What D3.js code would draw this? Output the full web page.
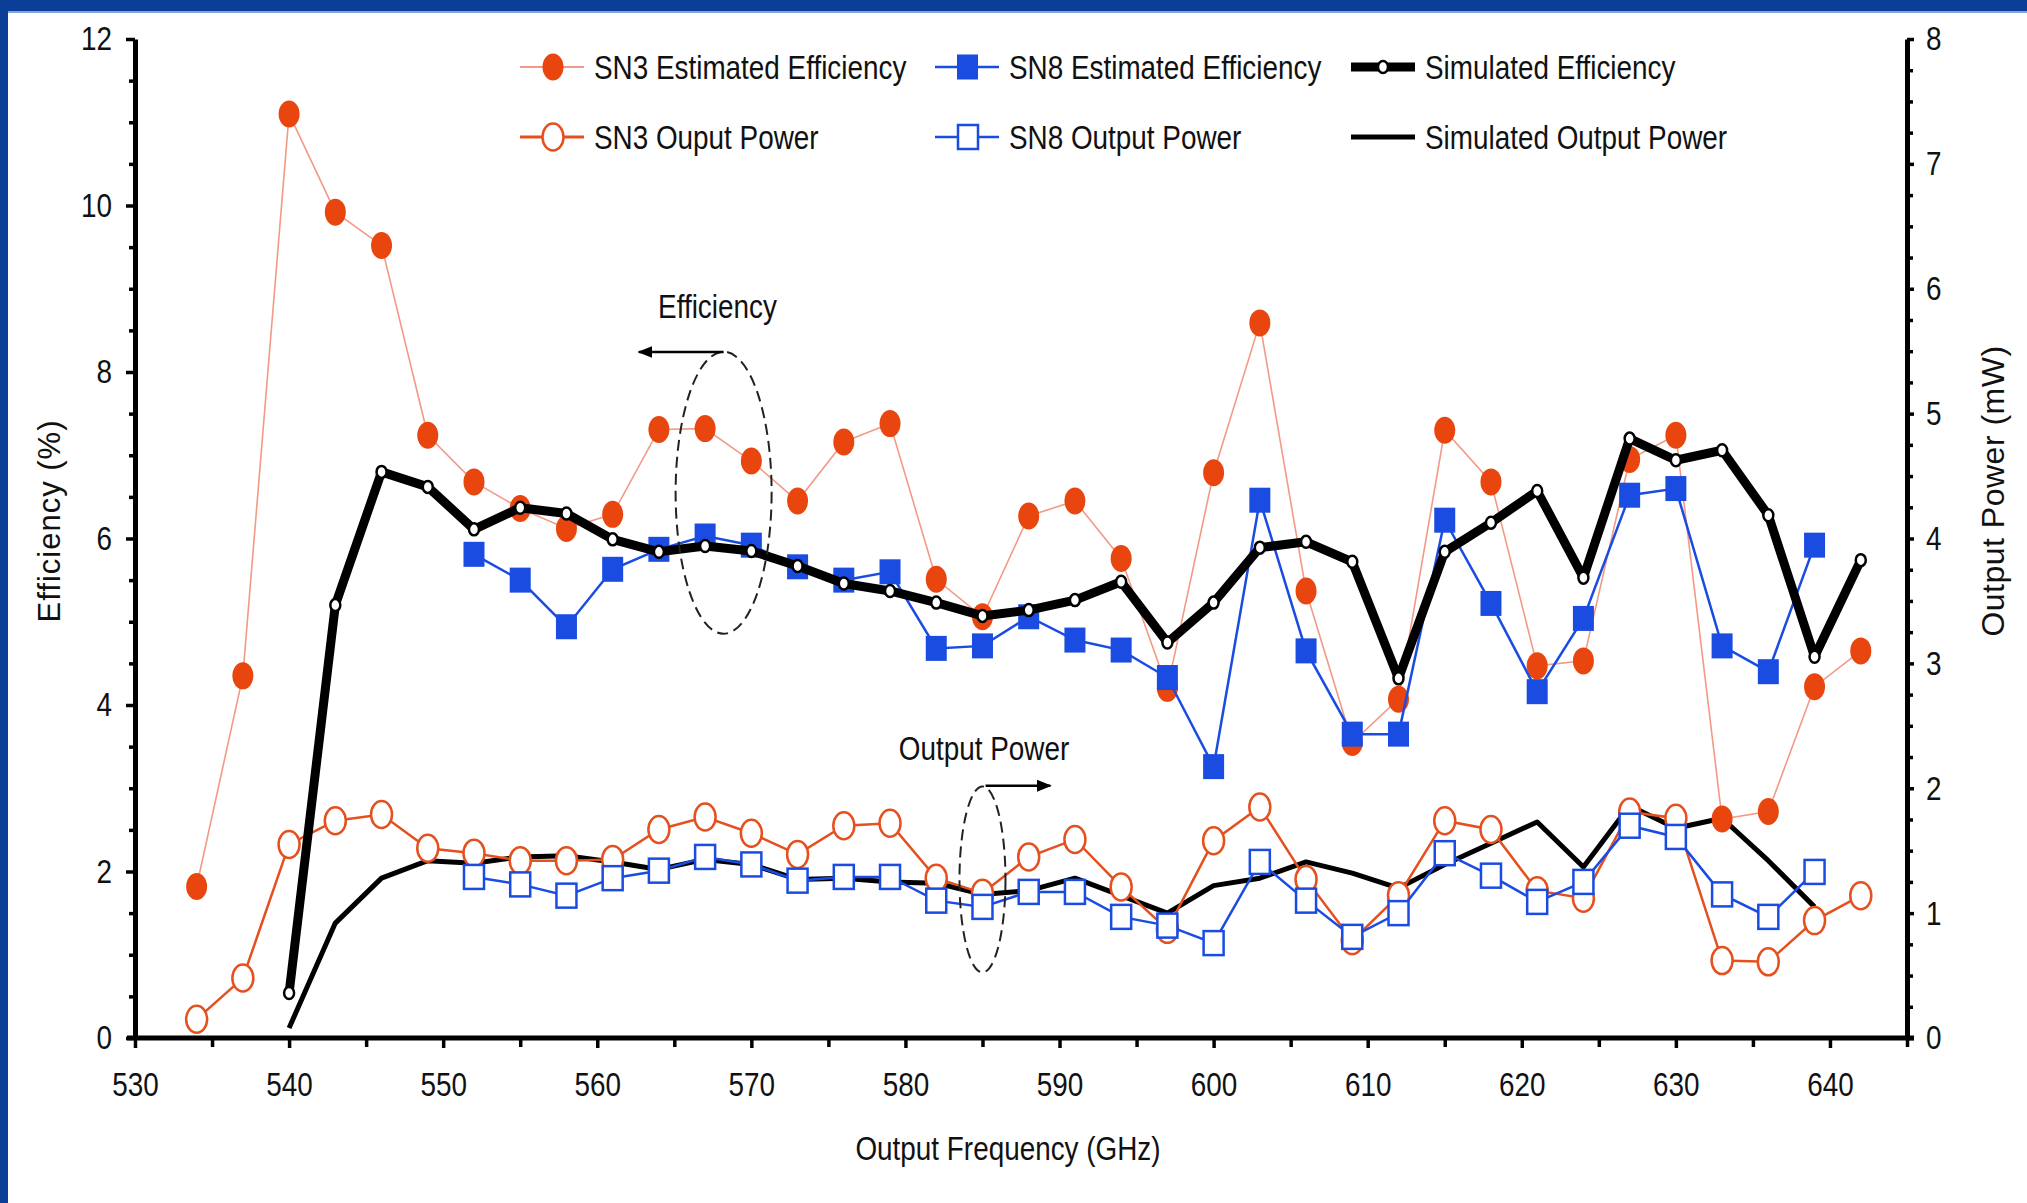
<!DOCTYPE html>
<html>
<head>
<meta charset="utf-8">
<script src="https://d3js.org/d3.v7.min.js"></script>
<style>
body { margin: 0; background: #fff; }
svg text { font-family: "Liberation Sans", Arial, sans-serif; fill: #111; }
</style>
</head>
<body>
<div id="container"></div>
<script>
var width = 2027, height = 1203;

// frequencies (GHz)
var freqSN3 = [534,537,540,543,546,549,552,555,558,561,564,567,570,573,576,579,582,585,588,591,594,597,600,603,606,609,612,615,618,621,624,627,630,633,636,639,642];
var freqSN8 = [552,555,558,561,564,567,570,573,576,579,582,585,588,591,594,597,600,603,606,609,612,615,618,621,624,627,630,633,636,639];
var freqSimEff = [540,543,546,549,552,555,558,561,564,567,570,573,576,579,582,585,588,591,594,597,600,603,606,609,612,615,618,621,624,627,630,633,636,639,642];
var freqSimPow = [540,543,546,549,552,555,558,561,564,567,570,573,576,579,582,585,588,591,594,597,600,603,606,609,612,615,618,621,624,627,630,633,636,639];

// efficiency (%)
var sn3Eff = [1.82,4.35,11.1,9.92,9.52,7.24,6.68,6.36,6.12,6.29,7.31,7.32,6.93,6.45,7.16,7.38,5.51,5.06,6.27,6.45,5.76,4.2,6.79,8.59,5.37,3.55,4.07,7.3,6.68,4.47,4.53,6.95,7.24,2.63,2.72,4.22,4.65];
var sn8Eff = [5.81,5.5,4.94,5.63,5.87,6.03,5.92,5.66,5.5,5.6,4.68,4.71,5.06,4.78,4.66,4.33,3.26,6.46,4.65,3.65,3.65,6.22,5.22,4.16,5.04,6.52,6.6,4.71,4.4,5.92];
var simEff = [0.54,5.2,6.8,6.62,6.11,6.37,6.3,5.99,5.84,5.91,5.85,5.67,5.46,5.37,5.23,5.07,5.14,5.26,5.48,4.75,5.23,5.89,5.96,5.72,4.32,5.84,6.19,6.57,5.53,7.2,6.94,7.06,6.28,4.58,5.74];

// output power (mW)
var sn3Pow = [0.15,0.48,1.55,1.74,1.79,1.52,1.48,1.42,1.42,1.43,1.67,1.77,1.64,1.47,1.7,1.72,1.28,1.16,1.45,1.59,1.21,0.87,1.58,1.85,1.27,0.78,1.14,1.74,1.67,1.18,1.12,1.81,1.76,0.62,0.61,0.94,1.14];
var sn8Pow = [1.29,1.23,1.14,1.28,1.34,1.45,1.39,1.26,1.29,1.29,1.1,1.05,1.17,1.17,0.97,0.9,0.76,1.41,1.1,0.81,1.0,1.48,1.3,1.09,1.25,1.7,1.61,1.15,0.97,1.33];
var simPow = [0.08,0.92,1.28,1.42,1.4,1.45,1.46,1.41,1.35,1.43,1.39,1.27,1.28,1.25,1.24,1.15,1.18,1.28,1.14,1.0,1.22,1.28,1.41,1.32,1.2,1.39,1.56,1.73,1.37,1.86,1.68,1.76,1.42,1.05];

// axis ticks
var xMajor = [530,540,550,560,570,580,590,600,610,620,630,640];
var xMinor = [535,545,555,565,575,585,595,605,615,625,635,645];
var yLeftMajor = [0,2,4,6,8,10,12];
var yLeftMinor = [0.5,1,1.5,2.5,3,3.5,4.5,5,5.5,6.5,7,7.5,8.5,9,9.5,10.5,11,11.5];
var yRightMajor = [0,1,2,3,4,5,6,7,8];
var yRightMinor = [0.25,0.5,0.75,1.25,1.5,1.75,2.25,2.5,2.75,3.25,3.5,3.75,4.25,4.5,4.75,5.25,5.5,5.75,6.25,6.5,6.75,7.25,7.5,7.75];

var red = '#e8450f', redLine = '#e4501e', redThin = '#f29a86', blue = '#1a4ce2';

var svg = d3.select('#container')
  .append('svg')
  .attr('width', width)
  .attr('height', height)
  .style('display', 'block');

// narrow look of the original lettering
function condense(sel, k) {
  sel.each(function() {
    var t = d3.select(this);
    var tx = +t.attr('x') || 0, ty = +t.attr('y') || 0;
    t.attr('transform', 'translate(' + tx + ',' + ty + ') scale(' + k + ',1) translate(' + (-tx) + ',' + (-ty) + ')');
  });
}

svg.append('rect').attr('width', width).attr('height', height).attr('fill', '#fff');
// blue slide frame
svg.append('rect').attr('x', 0).attr('y', 0).attr('width', width).attr('height', 11).attr('fill', '#0b3e97');
svg.append('rect').attr('x', 0).attr('y', 11).attr('width', width).attr('height', 2).attr('fill', '#7fa6dc');
svg.append('rect').attr('x', 0).attr('y', 0).attr('width', 8).attr('height', height).attr('fill', '#0b3e97');

var x = d3.scaleLinear().domain([530, 645]).range([135, 1907]);
var yL = d3.scaleLinear().domain([0, 12]).range([1038, 39]);
var yR = d3.scaleLinear().domain([0, 8]).range([1038, 39]);

function zip(xs, ys) { return xs.map(function(f, i) { return [f, ys[i]]; }); }

// ---- axes ----
function styleAxis(g, size) {
  g.select('.domain').attr('stroke', '#000').attr('stroke-width', 5);
  g.selectAll('.tick line').attr('stroke', '#000').attr('stroke-width', 3.5);
  g.selectAll('.tick text').attr('font-size', size).attr('fill', '#111').call(condense, 0.82);
}

var gx = svg.append('g').attr('transform', 'translate(0,1038)')
  .call(d3.axisBottom(x).tickValues(xMajor).tickSize(10).tickSizeOuter(0).tickPadding(24).tickFormat(d3.format('d')));
styleAxis(gx, 34);
gx.select('.domain').attr('d', 'M127,0H1914');
var gxm = svg.append('g').attr('transform', 'translate(0,1038)')
  .call(d3.axisBottom(x).tickValues(xMinor).tickSize(9).tickFormat(''));
gxm.select('.domain').remove();
gxm.selectAll('.tick line').attr('stroke', '#000').attr('stroke-width', 3.5);

var gl = svg.append('g').attr('transform', 'translate(135,0)')
  .call(d3.axisLeft(yL).tickValues(yLeftMajor).tickSize(9).tickSizeOuter(0).tickPadding(14).tickFormat(d3.format('d')));
styleAxis(gl, 34);
var glm = svg.append('g').attr('transform', 'translate(135,0)')
  .call(d3.axisLeft(yL).tickValues(yLeftMinor).tickSize(6).tickFormat(''));
glm.select('.domain').remove();
glm.selectAll('.tick line').attr('stroke', '#000').attr('stroke-width', 3.5);

var gr = svg.append('g').attr('transform', 'translate(1907,0)')
  .call(d3.axisRight(yR).tickValues(yRightMajor).tickSize(7).tickSizeOuter(0).tickPadding(12).tickFormat(d3.format('d')));
styleAxis(gr, 34);
var grm = svg.append('g').attr('transform', 'translate(1907,0)')
  .call(d3.axisRight(yR).tickValues(yRightMinor).tickSize(6).tickFormat(''));
grm.select('.domain').remove();
grm.selectAll('.tick line').attr('stroke', '#000').attr('stroke-width', 3.5);

// axis titles
svg.append('text').attr('transform', 'translate(60,521) rotate(-90)')
  .attr('text-anchor', 'middle').attr('font-size', 31).attr('letter-spacing', 1).text('Efficiency (%)');
svg.append('text').attr('transform', 'translate(2004,491) rotate(-90)')
  .attr('text-anchor', 'middle').attr('font-size', 32).attr('letter-spacing', 0.5).text('Output Power (mW)');
svg.append('text').attr('x', 1008).attr('y', 1160).attr('text-anchor', 'middle')
  .attr('font-size', 34).text('Output Frequency (GHz)').call(condense, 0.82);

// ---- series ----
var lineL = d3.line().x(function(d) { return x(d[0]); }).y(function(d) { return yL(d[1]); });
var lineR = d3.line().x(function(d) { return x(d[0]); }).y(function(d) { return yR(d[1]); });

var plot = svg.append('g');

// simulated output power
plot.append('path').datum(zip(freqSimPow, simPow)).attr('d', lineR)
  .attr('fill', 'none').attr('stroke', '#000').attr('stroke-width', 5).attr('stroke-linejoin', 'round');

// SN3 output power
var sn3P = zip(freqSN3, sn3Pow);
plot.append('path').datum(sn3P).attr('d', lineR)
  .attr('fill', 'none').attr('stroke', redLine).attr('stroke-width', 2.5);
plot.selectAll('.sn3p').data(sn3P).enter().append('ellipse')
  .attr('cx', function(d) { return x(d[0]); }).attr('cy', function(d) { return yR(d[1]); })
  .attr('rx', 10.5).attr('ry', 13.5).attr('fill', '#fff').attr('stroke', redLine).attr('stroke-width', 2.5);

// SN8 output power
var sn8P = zip(freqSN8, sn8Pow);
plot.append('path').datum(sn8P).attr('d', lineR)
  .attr('fill', 'none').attr('stroke', blue).attr('stroke-width', 2.5);
plot.selectAll('.sn8p').data(sn8P).enter().append('rect')
  .attr('x', function(d) { return x(d[0]) - 10; }).attr('y', function(d) { return yR(d[1]) - 12; })
  .attr('width', 20).attr('height', 24).attr('fill', '#fff').attr('stroke', blue).attr('stroke-width', 2.5);

// SN3 estimated efficiency
var sn3E = zip(freqSN3, sn3Eff);
plot.append('path').datum(sn3E).attr('d', lineL)
  .attr('fill', 'none').attr('stroke', redThin).attr('stroke-width', 1.6);
plot.selectAll('.sn3e').data(sn3E).enter().append('ellipse')
  .attr('cx', function(d) { return x(d[0]); }).attr('cy', function(d) { return yL(d[1]); })
  .attr('rx', 10.5).attr('ry', 13.5).attr('fill', red);

// SN8 estimated efficiency
var sn8E = zip(freqSN8, sn8Eff);
plot.append('path').datum(sn8E).attr('d', lineL)
  .attr('fill', 'none').attr('stroke', blue).attr('stroke-width', 2.5);
plot.selectAll('.sn8e').data(sn8E).enter().append('rect')
  .attr('x', function(d) { return x(d[0]) - 10.5; }).attr('y', function(d) { return yL(d[1]) - 12.5; })
  .attr('width', 21).attr('height', 25).attr('fill', blue);

// simulated efficiency
var simE = zip(freqSimEff, simEff);
plot.append('path').datum(simE).attr('d', lineL)
  .attr('fill', 'none').attr('stroke', '#000').attr('stroke-width', 9).attr('stroke-linejoin', 'round');
plot.selectAll('.sime').data(simE).enter().append('ellipse')
  .attr('cx', function(d) { return x(d[0]); }).attr('cy', function(d) { return yL(d[1]); })
  .attr('rx', 5).attr('ry', 6).attr('fill', '#fff').attr('stroke', '#000').attr('stroke-width', 2.5);

// ---- annotations ----
var defs = svg.append('defs');
defs.append('marker').attr('id', 'arrow').attr('viewBox', '0 0 10 10')
  .attr('refX', 9).attr('refY', 5).attr('markerWidth', 6).attr('markerHeight', 6)
  .attr('markerUnits', 'strokeWidth').attr('orient', 'auto')
  .append('path').attr('d', 'M0,1L10,5L0,9z').attr('fill', '#000');

var ann = svg.append('g');
ann.append('ellipse').attr('cx', x(568.2)).attr('cy', yL(6.55)).attr('rx', 48).attr('ry', 141)
  .attr('fill', 'none').attr('stroke', '#222').attr('stroke-width', 2).attr('stroke-dasharray', '11,6');
ann.append('line').attr('x1', x(568.2)).attr('y1', yL(8.24)).attr('x2', x(562.7)).attr('y2', yL(8.24))
  .attr('stroke', '#000').attr('stroke-width', 2.5).attr('marker-end', 'url(#arrow)');
ann.append('text').attr('x', x(567.8)).attr('y', yL(8.65)).attr('text-anchor', 'middle')
  .attr('font-size', 34).text('Efficiency').call(condense, 0.82);

ann.append('ellipse').attr('cx', x(585)).attr('cy', yR(1.27)).attr('rx', 23).attr('ry', 93)
  .attr('fill', 'none').attr('stroke', '#222').attr('stroke-width', 2).attr('stroke-dasharray', '11,6');
ann.append('line').attr('x1', x(585.2)).attr('y1', yR(2.02)).attr('x2', x(589.4)).attr('y2', yR(2.02))
  .attr('stroke', '#000').attr('stroke-width', 2.5).attr('marker-end', 'url(#arrow)');
ann.append('text').attr('x', x(585.1)).attr('y', yR(2.23)).attr('text-anchor', 'middle')
  .attr('font-size', 34).text('Output Power').call(condense, 0.82);

// ---- legend ----
var legendItems = [
  {name: 'SN3 Estimated Efficiency', col: 0, row: 0, type: 'sn3e'},
  {name: 'SN8 Estimated Efficiency', col: 1, row: 0, type: 'sn8e'},
  {name: 'Simulated Efficiency', col: 2, row: 0, type: 'sime'},
  {name: 'SN3 Ouput Power', col: 0, row: 1, type: 'sn3p'},
  {name: 'SN8 Output Power', col: 1, row: 1, type: 'sn8p'},
  {name: 'Simulated Output Power', col: 2, row: 1, type: 'simp'}
];
var colX = [520, 935, 1351];
var rowY = [67, 137];

var leg = svg.append('g').selectAll('g').data(legendItems).enter().append('g')
  .attr('transform', function(d) { return 'translate(' + colX[d.col] + ',' + rowY[d.row] + ')'; });

leg.each(function(d) {
  var g = d3.select(this);
  var lineStyle = {
    sn3e: [redThin, 2], sn8e: [blue, 2.5], sime: ['#000', 9],
    sn3p: [redLine, 3], sn8p: [blue, 2.5], simp: ['#000', 5]
  }[d.type];
  g.append('line').attr('x1', 0).attr('x2', 64).attr('y1', 0).attr('y2', 0)
    .attr('stroke', lineStyle[0]).attr('stroke-width', lineStyle[1]);
  if (d.type === 'sn3e') g.append('ellipse').attr('cx', 33).attr('rx', 10.5).attr('ry', 13.5).attr('fill', red);
  if (d.type === 'sn3p') g.append('ellipse').attr('cx', 33).attr('rx', 10.5).attr('ry', 13.5)
    .attr('fill', '#fff').attr('stroke', redLine).attr('stroke-width', 2.5);
  if (d.type === 'sn8e') g.append('rect').attr('x', 22).attr('y', -12.5).attr('width', 21).attr('height', 25).attr('fill', blue);
  if (d.type === 'sn8p') g.append('rect').attr('x', 23).attr('y', -12).attr('width', 20).attr('height', 24)
    .attr('fill', '#fff').attr('stroke', blue).attr('stroke-width', 2.5);
  if (d.type === 'sime') g.append('ellipse').attr('cx', 32).attr('rx', 5).attr('ry', 6)
    .attr('fill', '#fff').attr('stroke', '#000').attr('stroke-width', 2.5);
  g.append('text').attr('x', 74).attr('y', 0).attr('dy', '0.36em')
    .attr('font-size', 34).text(d.name).call(condense, 0.82);
});
</script>
</body>
</html>
